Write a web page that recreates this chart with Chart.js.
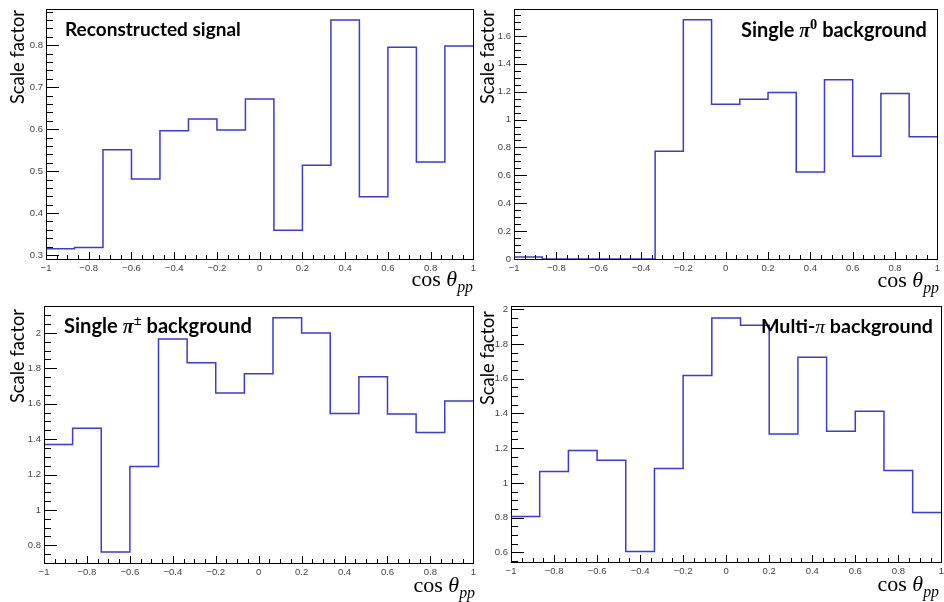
<!DOCTYPE html>
<html>
<head>
<meta charset="utf-8">
<script src="https://cdn.jsdelivr.net/npm/chart.js@4.4.1/dist/chart.umd.min.js"></script>
<style>
  html, body { margin: 0; padding: 0; background: #fff; overflow: hidden; }
  #wrap { position: relative; width: 944px; height: 602px; overflow: hidden; background: #fff; }
  canvas { position: absolute; }
</style>
</head>
<body>
<div id="wrap">
  <canvas id="c1"></canvas>
  <canvas id="c2"></canvas>
  <canvas id="c3"></canvas>
  <canvas id="c4"></canvas>
</div>
<script>
// 15 bins in cos theta_pp
const binEdges = [-1, -0.8667, -0.7333, -0.6, -0.4667, -0.3333, -0.2, -0.0667, 0.0667, 0.2, 0.3333, 0.4667, 0.6, 0.7333, 0.8667, 1];
const xTicks = [-1, -0.8, -0.6, -0.4, -0.2, 0, 0.2, 0.4, 0.6, 0.8, 1];

// scale factor per bin
const signalSF = [0.315, 0.318, 0.551, 0.481, 0.596, 0.624, 0.598, 0.672, 0.359, 0.514, 0.860, 0.439, 0.795, 0.522, 0.798];
const pi0SF    = [0.014, 0, 0, 0, 0, 0.772, 1.715, 1.110, 1.145, 1.194, 0.624, 1.286, 0.737, 1.187, 0.877];
const piPmSF   = [1.369, 1.461, 0.762, 1.245, 1.966, 1.831, 1.660, 1.769, 2.086, 2.000, 1.545, 1.752, 1.542, 1.438, 1.615];
const multiPiSF = [0.807, 1.066, 1.187, 1.130, 0.606, 1.083, 1.619, 1.949, 1.907, 1.282, 1.723, 1.297, 1.413, 1.072, 0.830];

const yTicksSignal = [0.3, 0.4, 0.5, 0.6, 0.7, 0.8];
const yTicksPi0 = [0, 0.2, 0.4, 0.6, 0.8, 1, 1.2, 1.4, 1.6];
const yTicksPiPm = [0.8, 1, 1.2, 1.4, 1.6, 1.8, 2];
const yTicksMulti = [0.6, 0.8, 1, 1.2, 1.4, 1.6, 1.8, 2];

const SANS = '"Lato", "Open Sans", sans-serif';
const SERIF = '"Liberation Serif", "DejaVu Serif", serif';
const LINE_COLOR = '#3a3ad4';

const panels = [
  {
    id: 'c1', left: 0, top: 0, w: 480, h: 297,
    pad: { left: 0, right: 6, top: 4 }, yW: 46, xH: 38,
    values: signalSF, yTicks: yTicksSignal, yMin: 0.2906, yMax: 0.887, yMinor: 5,
    title: [{ t: 'Reconstructed signal', f: 'bold', fam: SANS }],
    titlePos: [65, 36], titleW: 176,
    yTitlePos: [24, 104], xTitlePos: [473, 286]
  },
  {
    id: 'c2', left: 472, top: 0, w: 472, h: 297,
    pad: { left: 0, right: 2, top: 4 }, yW: 42, xH: 38,
    values: pi0SF, yTicks: yTicksPi0, yMin: 0, yMax: 1.795, yMinor: 4,
    title: [
      { t: 'Single ', f: 'bold', fam: SANS },
      { t: 'π', f: 'italic bold', fam: SERIF },
      { t: '0', f: 'bold', fam: SERIF, k: 0.72, dy: -0.42 },
      { t: ' background', f: 'bold', fam: SANS }
    ],
    titlePos: [269, 37], titleW: 186,
    yTitlePos: [22, 104], xTitlePos: [467, 287]
  },
  {
    id: 'c3', left: 0, top: 297, w: 480, h: 305,
    pad: { left: 0, right: 4, top: 9 }, yW: 44, xH: 39,
    values: piPmSF, yTicks: yTicksPiPm, yMin: 0.70, yMax: 2.152, yMinor: 4,
    title: [
      { t: 'Single ', f: 'bold', fam: SANS },
      { t: 'π', f: 'italic bold', fam: SERIF },
      { t: '±', f: 'bold', fam: SERIF, k: 0.72, dy: -0.42 },
      { t: ' background', f: 'bold', fam: SANS }
    ],
    titlePos: [64, 36], titleW: 188,
    yTitlePos: [24, 106], xTitlePos: [475, 295]
  },
  {
    id: 'c4', left: 472, top: 297, w: 476, h: 305,
    pad: { left: 0, right: 1, top: 5 }, yW: 39, xH: 40,
    values: multiPiSF, yTicks: yTicksMulti, yMin: 0.545, yMax: 2.02, yMinor: 4,
    title: [
      { t: 'Multi-', f: 'bold', fam: SANS },
      { t: 'π', f: 'italic', fam: SERIF },
      { t: ' background', f: 'bold', fam: SANS }
    ],
    titlePos: [289, 36], titleW: 172,
    yTitlePos: [22, 108], xTitlePos: [467, 294]
  }
];

function fmt(v) {
  return String(+v.toFixed(3)).replace('-', '\u2212');
}

// draws a list of text pieces with mixed fonts, returns width
function drawRich(ctx, segs, size, x, y, measureOnly) {
  let cx = x;
  segs.forEach(s => {
    const k = s.k || 1;
    ctx.font = s.f + ' ' + (size * k).toFixed(2) + 'px ' + s.fam;
    if (!measureOnly) ctx.fillText(s.t, cx, y + (s.dy || 0) * size);
    cx += ctx.measureText(s.t).width;
  });
  return cx - x;
}

function drawTicks(ctx, scale, majors, nDiv, horizontal, area) {
  const step = (majors[1] - majors[0]) / nDiv;
  const start = majors[0] - Math.floor((majors[0] - scale.min) / step + 1e-6) * step;
  ctx.beginPath();
  for (let v = start; v <= scale.max + 1e-6; v += step) {
    const isMajor = majors.some(m => Math.abs(m - v) < step / 10);
    const p = Math.round(scale.getPixelForValue(v)) + 0.5;
    if (horizontal) {
      const len = isMajor ? 7 : 4;
      ctx.moveTo(p, area.bottom);
      ctx.lineTo(p, area.bottom - len);
    } else {
      const len = isMajor ? 13 : 7;
      ctx.moveTo(area.left, p);
      ctx.lineTo(area.left + len, p);
    }
  }
  ctx.stroke();
}

const rootStyle = {
  id: 'rootStyle',
  afterDatasetsDraw(chart, args, opts) {
    const ctx = chart.ctx;
    const a = chart.chartArea;
    const pnl = opts.panel;
    ctx.save();
    // frame
    ctx.strokeStyle = '#000';
    ctx.lineWidth = 1;
    ctx.strokeRect(Math.round(a.left) + 0.5, Math.round(a.top) + 0.5, Math.round(a.right - a.left), Math.round(a.bottom - a.top));
    // ticks
    drawTicks(ctx, chart.scales.x, xTicks, 4, true, a);
    drawTicks(ctx, chart.scales.y, pnl.yTicks, pnl.yMinor, false, a);

    ctx.fillStyle = '#000';
    ctx.textBaseline = 'alphabetic';
    ctx.textAlign = 'left';

    // panel title
    const w20 = drawRich(ctx, pnl.title, 20, 0, 0, true);
    const size = 20 * pnl.titleW / w20;
    drawRich(ctx, pnl.title, size, pnl.titlePos[0], pnl.titlePos[1]);

    // y axis title
    ctx.font = '20px ' + SANS;
    const ys = 20 * 94 / ctx.measureText('Scale factor').width;
    ctx.save();
    ctx.translate(pnl.yTitlePos[0], pnl.yTitlePos[1]);
    ctx.rotate(-Math.PI / 2);
    ctx.font = ys.toFixed(2) + 'px ' + SANS;
    ctx.fillText('Scale factor', 0, 0);
    ctx.restore();

    // x axis title
    const xSegs = [
      { t: 'cos ', f: 'normal', fam: SERIF },
      { t: 'θ', f: 'italic', fam: SERIF },
      { t: 'pp', f: 'italic', fam: SERIF, k: 0.72, dy: 0.28 }
    ];
    const xw = drawRich(ctx, xSegs, 22, 0, 0, true);
    drawRich(ctx, xSegs, 22, pnl.xTitlePos[0] - xw, pnl.xTitlePos[1]);
    ctx.restore();
  }
};

panels.forEach(pnl => {
  const cv = document.getElementById(pnl.id);
  cv.width = pnl.w;
  cv.height = pnl.h;
  cv.style.left = pnl.left + 'px';
  cv.style.top = pnl.top + 'px';

  // one point per bin edge, last value repeated to close the last bin
  const pts = binEdges.map((e, i) => ({ x: e, y: pnl.values[Math.min(i, pnl.values.length - 1)] }));

  new Chart(cv.getContext('2d'), {
    type: 'line',
    data: {
      datasets: [{
        data: pts,
        stepped: 'before',
        borderColor: LINE_COLOR,
        borderWidth: 1.5,
        pointRadius: 0,
        fill: false
      }]
    },
    options: {
      responsive: false,
      animation: false,
      devicePixelRatio: 1,
      layout: { autoPadding: false, padding: { left: pnl.pad.left, right: pnl.pad.right, top: pnl.pad.top, bottom: 0 } },
      plugins: {
        legend: { display: false },
        tooltip: { enabled: false },
        rootStyle: { panel: pnl }
      },
      scales: {
        x: {
          type: 'linear',
          min: -1,
          max: 1,
          grid: { display: false, drawTicks: false },
          border: { display: false },
          afterBuildTicks: s => { s.ticks = xTicks.map(v => ({ value: v })); },
          afterFit: s => { s.height = pnl.xH; },
          ticks: {
            autoSkip: false,
            maxRotation: 0,
            padding: 4,
            color: '#444',
            font: { family: '"Liberation Sans", Arial, sans-serif', size: 9.5 },
            callback: v => fmt(v)
          }
        },
        y: {
          type: 'linear',
          min: pnl.yMin,
          max: pnl.yMax,
          grid: { display: false, drawTicks: false },
          border: { display: false },
          afterBuildTicks: s => { s.ticks = pnl.yTicks.map(v => ({ value: v })); },
          afterFit: s => { s.width = pnl.yW; },
          ticks: {
            autoSkip: false,
            padding: 3,
            color: '#444',
            font: { family: '"Liberation Sans", Arial, sans-serif', size: 9.5 },
            callback: v => fmt(v)
          }
        }
      }
    },
    plugins: [rootStyle]
  });
});
</script>
</body>
</html>
